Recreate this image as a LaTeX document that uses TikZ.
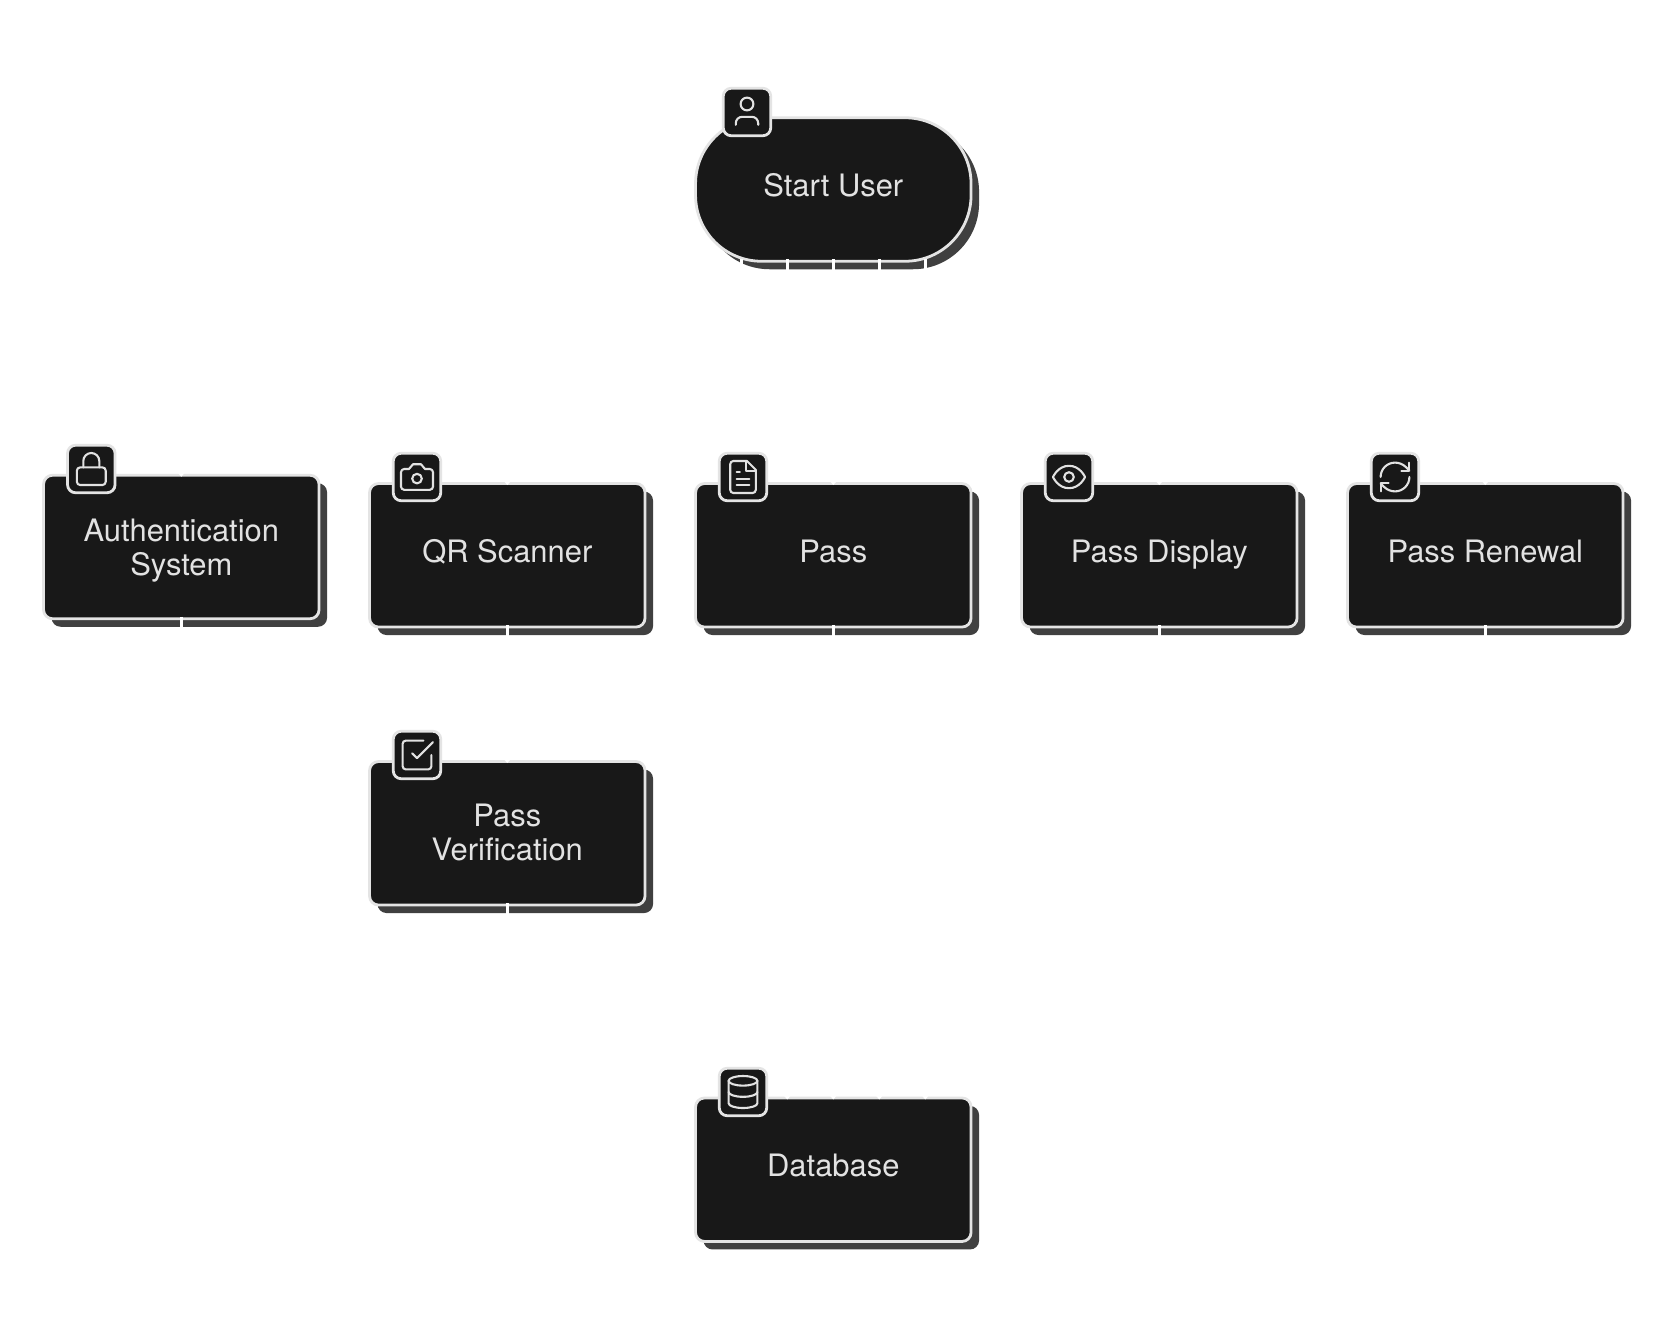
\documentclass[tikz,border=0pt]{standalone}
\usepackage{fontspec}
\setmainfont{TeX Gyre Heros}
\usetikzlibrary{shadows}
\definecolor{boxfill}{HTML}{181818}
\definecolor{boxline}{HTML}{E4E4E4}
\definecolor{boxshadow}{HTML}{404040}
\definecolor{boxtext}{HTML}{E2E2E2}
\tikzset{
  card/.style={rectangle, draw=boxline, fill=boxfill, line width=2.8pt, rounded corners=9pt,
    minimum width=275.5pt, minimum height=143.5pt, inner sep=0pt, outer sep=0pt,
    general shadow={fill=boxshadow, shadow xshift=8pt, shadow yshift=-8pt},
    text=boxtext, align=center, font=\fontsize{30.9}{34}\selectfont,
    text height=22pt, text depth=8pt},
  twoline/.style={text height=62pt, text depth=8pt},
  pill/.style={card, rounded corners=66pt},
  badge/.style={rectangle, draw=boxline, fill=boxfill, line width=2.8pt, rounded corners=8pt,
    minimum size=47.5pt, inner sep=0pt, outer sep=0pt},
  glyph/.style={draw=boxtext, line width=2.1pt, line cap=round, line join=round},
  stub/.style={draw=white, line width=2.6pt},
  nick/.style={fill=white, draw=none},
}
\newcommand{\tick}[2]{\draw[stub] ([xshift=#2pt,yshift=2pt]#1.south) -- ([xshift=#2pt,yshift=-10pt]#1.south);}
\newcommand{\nock}[2]{\fill[nick] ([xshift=#2-3.5pt,yshift=2.5pt]#1.north) -- ([xshift=#2+3.5pt,yshift=2.5pt]#1.north) -- ([xshift=#2pt,yshift=-1.5pt]#1.north) -- cycle;}
\newenvironment{glyphat}[1]{\begin{scope}[shift={(#1.center)},x=1.6pt,y=-1.6pt,shift={(-12,-12)},every path/.append style={glyph}]}{\end{scope}}
\begin{document}
\begin{tikzpicture}[x=1pt,y=-1pt]
\useasboundingbox (0,0) rectangle (1680,1322);
\fill[white] (0,0) rectangle (1680,1322);

\node[pill] (start) at (833.3,189.5) {Start User};
\node[card,twoline,text height=64pt] (auth) at (181.3,547) {Authentication\\System};
\node[card] (qr) at (507.3,555.3) {QR Scanner};
\node[card] (pass) at (833.3,555.3) {Pass};
\node[card] (display) at (1159.3,555.3) {Pass Display};
\node[card] (renewal) at (1485.3,555.3) {Pass Renewal};
\node[card,twoline] (verify) at (507.3,833.3) {Pass\\Verification};
\node[card] (db) at (833.3,1169.7) {Database};

\tick{start}{-92}\tick{start}{-46}\tick{start}{0}\tick{start}{46}\tick{start}{92}
\tick{auth}{0}\tick{qr}{0}\tick{pass}{0}\tick{display}{0}\tick{renewal}{0}\tick{verify}{0}
\nock{auth}{0}\nock{qr}{0}\nock{pass}{0}\nock{display}{0}\nock{renewal}{0}\nock{verify}{0}
\nock{db}{-46}\nock{db}{0}\nock{db}{46}\nock{db}{92}

\node[badge] (bstart) at (747,112) {};
\node[badge] (bauth) at (91.3,469) {};
\node[badge] (bqr) at (417,477) {};
\node[badge] (bpass) at (743,477) {};
\node[badge] (bdisplay) at (1069,477) {};
\node[badge] (brenewal) at (1395,477) {};
\node[badge] (bverify) at (417,755) {};
\node[badge] (bdb) at (743,1092) {};

\begin{glyphat}{bstart}
  \path (19,20) -- (19,19) .. controls (19,16.8) and (17.2,15) .. (15,15) -- (9,15) .. controls (6.8,15) and (5,16.8) .. (5,19) -- (5,20);
  \path (12,7) ellipse [x radius=4, y radius=4];
\end{glyphat}
\begin{glyphat}{bauth}
  \path[rounded corners=3.2pt] (3,11) rectangle (21,22);
  \path (7,11) -- (7,7) .. controls (7,4.24) and (9.24,2) .. (12,2) .. controls (14.76,2) and (17,4.24) .. (17,7) -- (17,11);
\end{glyphat}
\begin{glyphat}{bqr}
  \path (14.5,4) -- (9.5,4) -- (7,7) -- (4,7) .. controls (2.9,7) and (2,7.9) .. (2,9) -- (2,18) .. controls (2,19.1) and (2.9,20) .. (4,20) -- (20,20) .. controls (21.1,20) and (22,19.1) .. (22,18) -- (22,9) .. controls (22,7.9) and (21.1,7) .. (20,7) -- (17,7) -- cycle;
  \path (12,13) ellipse [x radius=3, y radius=3];
\end{glyphat}
\begin{glyphat}{bpass}
  \path (14.5,2) -- (6,2) .. controls (4.9,2) and (4,2.9) .. (4,4) -- (4,20) .. controls (4,21.1) and (4.9,22) .. (6,22) -- (18,22) .. controls (19.1,22) and (20,21.1) .. (20,20) -- (20,7.5) -- cycle;
  \path (14,2) -- (14,8) -- (20,8);
  \path (16,13) -- (8,13);
  \path (16,17) -- (8,17);
  \path (10,9) -- (8,9);
\end{glyphat}
\begin{glyphat}{bdisplay}
  \path (2,12) .. controls (2,12) and (5,5) .. (12,5) .. controls (19,5) and (22,12) .. (22,12) .. controls (22,12) and (19,19) .. (12,19) .. controls (5,19) and (2,12) .. cycle;
  \path (12,12) ellipse [x radius=3, y radius=3];
\end{glyphat}
\begin{glyphat}{brenewal}
  \path (3,12) .. controls (3,7.03) and (7.03,3) .. (12,3) .. controls (14.5,3) and (16.9,4) .. (18.74,5.74) -- (21,8);
  \path (21,3) -- (21,8) -- (16,8);
  \path (21,12) .. controls (21,16.97) and (16.97,21) .. (12,21) .. controls (9.5,21) and (7.1,20) .. (5.26,18.26) -- (3,16);
  \path (8,16) -- (3,16) -- (3,21);
\end{glyphat}
\begin{glyphat}{bverify}
  \path (9,11) -- (12,14) -- (22,4);
  \path[rounded corners=3.2pt] (21,12) -- (21,21) -- (3,21) -- (3,3) -- (16,3);
\end{glyphat}
\begin{glyphat}{bdb}
  \path (12,5) ellipse [x radius=9, y radius=3];
  \path (21,12) .. controls (21,13.66) and (17,15) .. (12,15) .. controls (7,15) and (3,13.66) .. (3,12);
  \path (3,5) -- (3,19) .. controls (3,20.66) and (7,22) .. (12,22) .. controls (17,22) and (21,20.66) .. (21,19) -- (21,5);
\end{glyphat}
\end{tikzpicture}
\end{document}
